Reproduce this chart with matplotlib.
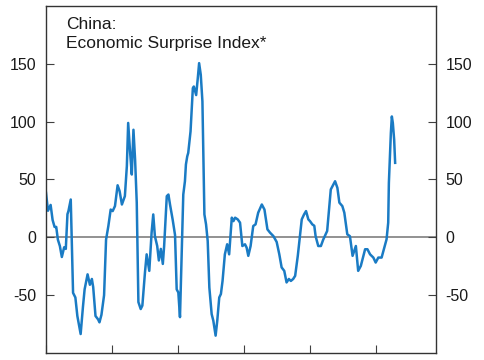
import matplotlib
matplotlib.use("Agg")
import matplotlib.pyplot as plt

plt.rcParams['font.family'] = ['Liberation Sans', 'DejaVu Sans']
plt.rcParams['axes.unicode_minus'] = False

title = "China:\nEconomic Surprise Index*"

dates = [
    2010.00, 2010.06, 2010.14, 2010.20, 2010.26, 2010.31, 2010.36, 2010.42, 2010.48, 2010.55,
    2010.60, 2010.65, 2010.68, 2010.75, 2010.82, 2010.89, 2010.95, 2011.05, 2011.12, 2011.17,
    2011.26, 2011.33, 2011.39, 2011.43, 2011.50, 2011.58, 2011.62, 2011.68, 2011.76, 2011.82,
    2011.89, 2011.96, 2012.02, 2012.09, 2012.17, 2012.23, 2012.30, 2012.39, 2012.45, 2012.49,
    2012.55, 2012.60, 2012.65, 2012.70, 2012.75, 2012.80, 2012.87, 2012.92, 2013.00, 2013.05,
    2013.13, 2013.20, 2013.25, 2013.30, 2013.37, 2013.42, 2013.48, 2013.54, 2013.58, 2013.66,
    2013.71, 2013.76, 2013.84, 2013.91, 2013.96, 2014.01, 2014.06, 2014.11, 2014.16, 2014.21,
    2014.24, 2014.28, 2014.31, 2014.38, 2014.45, 2014.48, 2014.55, 2014.60, 2014.64, 2014.69,
    2014.74, 2014.80, 2014.85, 2014.90, 2014.95, 2015.02, 2015.07, 2015.14, 2015.19, 2015.25,
    2015.30, 2015.35, 2015.42, 2015.49, 2015.55, 2015.63, 2015.68, 2015.73, 2015.81, 2015.88,
    2015.95, 2016.03, 2016.08, 2016.13, 2016.20, 2016.28, 2016.35, 2016.43, 2016.54, 2016.62,
    2016.71, 2016.79, 2016.89, 2016.99, 2017.07, 2017.14, 2017.22, 2017.29, 2017.36, 2017.42,
    2017.49, 2017.55, 2017.63, 2017.70, 2017.75, 2017.82, 2017.88, 2017.95, 2018.00, 2018.07,
    2018.13, 2018.17, 2018.25, 2018.33, 2018.40, 2018.52, 2018.63, 2018.71, 2018.76, 2018.83,
    2018.89, 2018.98, 2019.04, 2019.13, 2019.21, 2019.29, 2019.39, 2019.46, 2019.54, 2019.67,
    2019.74, 2019.82, 2019.92, 2019.99, 2020.07, 2020.17, 2020.25, 2020.32, 2020.37, 2020.39,
    2020.45, 2020.48, 2020.51, 2020.55, 2020.58,
]

values = [
    38.5, 23, 28, 15, 9, 9, -2, -7.5, -17, -8.6,
    -10, 20, 22.7, 32.7, -48, -52, -68, -83.6, -60, -45,
    -32, -41, -36, -43, -68, -71, -73.5, -67, -50, -2,
    9.8, 24, 22.7, 27, 45, 40, 28.4, 35.6, 61.5, 98.9,
    73, 54.3, 93, 67, 30, -56, -62, -59, -30, -14.7,
    -29, 4, 19.8, 1, -7.5, -20, -10, -23, -7.5, 35.6,
    37, 28, 15, 2, -45, -47.7, -69, -14.7, 37, 48.5,
    63, 70, 73, 91.6, 129, 130.4, 123, 137.7, 150.6, 140.5,
    117.5, 19.8, 11.2, -3.2, -43.4, -66.4, -72, -85, -72, -52,
    -49, -37.7, -14.7, -6, -14.7, 17, 14, 17, 15.5, 12.7,
    -7.5, -6, -8.9, -16, -7.5, 9.8, 11.2, 21.3, 28.4, 24,
    6.9, 4, 1.1, -4, -14.7, -26, -29, -39, -36, -37.7,
    -36, -33.3, -16, 2.6, 15.5, 19.8, 22.7, 15.5, 14, 11.2,
    10, 1, -7.5, -7.5, -2, 5.5, 41.4, 45.7, 48.5, 42.8,
    30, 27, 21.3, 2.6, 1, -16, -7.5, -29, -24.7, -10.3,
    -10.3, -14.7, -17.5, -21.8, -17.5, -17.5, -8.9, -1.7, 12.7, 47,
    90, 104.5, 98.9, 84.5, 64.4,
]

y_ticks = [-50, 0, 50, 100, 150]
x_ticks = [2010, 2012, 2014, 2016, 2018, 2020]

fig = plt.figure(figsize=(4.85, 3.6), dpi=100)
ax = fig.add_axes([46/485, 7/360, 390/485, 347/360])

ax.axhline(0, color='#7f7f7f', lw=1.2, zorder=1)
ax.plot(dates, values, color='#1a7bc4', lw=1.8, zorder=2)

ax.set_xlim(2010, 2010 + 390/33)
ax.set_ylim(-100, 200)

ax.set_yticks(y_ticks)
ax.set_xticks(x_ticks)
ax.set_xticklabels([])
ax.tick_params(axis='y', which='both', direction='in', length=6, width=0.8,
               color='#404040', labelsize=11.5, left=True, right=True,
               labelleft=True, labelright=True, pad=7, labelcolor='#1a1a1a')
ax.tick_params(axis='x', direction='in', length=6, width=0.8, color='#404040')

for s in ax.spines.values():
    s.set_color('#333333')
    s.set_linewidth(1.0)

ax.text(20/390, 1 - 11/347, title, transform=ax.transAxes, ha='left', va='top',
        fontsize=12.5, color='#1a1a1a', linespacing=1.3)

fig.savefig('out.png', dpi=100)
